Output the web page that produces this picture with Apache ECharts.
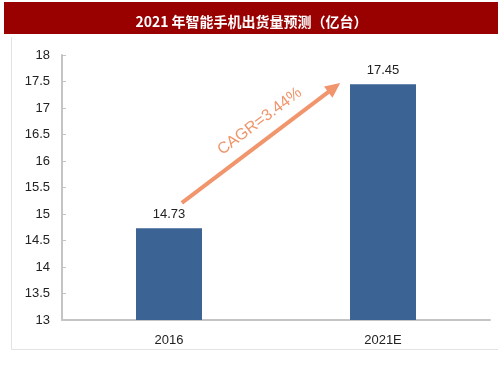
<!DOCTYPE html>
<html>
<head>
<meta charset="utf-8">
<script src="https://cdn.jsdelivr.net/npm/echarts@6/dist/echarts.min.js"></script>
<style>
  html, body { margin: 0; padding: 0; background: #fff; }
  #chart { width: 503px; height: 378px; }
</style>
</head>
<body>
<div id="chart"></div>
<script>
const titleText = "2021 年智能手机出货量预测（亿台）";
const categories = ["2016", "2021E"];
const shipments = [14.73, 17.45];
const cagrLabel = "CAGR=3.44%";
// arrow start / end: fraction of the way between the two category centres, and value
const arrowFrom = [0.06, 15.21];
const arrowTo = [0.8, 17.47];

const FONT = "'Liberation Sans', Arial, sans-serif";
const AXIS_COLOR = "#c4c4c4";
const ARROW_COLOR = "#f0956c";

const chart = echarts.init(document.getElementById("chart"));

const baseGraphic = [
  {
    type: "rect",
    z: -1,
    shape: { x: 4, y: 2, width: 494, height: 32 },
    style: { fill: "#990000" },
  },
  {
    type: "polyline",
    shape: { points: [[11.5, 37], [11.5, 349.5], [498, 349.5]] },
    style: { stroke: "#e3e3e3", lineWidth: 1, fill: null },
  },
];

chart.setOption({
  animation: false,
  title: {
    text: titleText,
    left: "center",
    top: 10,
    textStyle: {
      color: "#fff",
      fontSize: 14,
      fontWeight: "bold",
      fontFamily: "'Noto Sans CJK SC', sans-serif",
    },
  },
  graphic: baseGraphic,
  grid: { left: 62, right: 13, top: 55, bottom: 58 },
  xAxis: {
    type: "category",
    data: categories,
    axisLine: { lineStyle: { color: AXIS_COLOR, width: 2 } },
    axisTick: { inside: true, length: 4, lineStyle: { color: AXIS_COLOR } },
    axisLabel: { color: "#222", fontSize: 13, fontFamily: FONT, margin: 14 },
  },
  yAxis: {
    type: "value",
    min: 13,
    max: 18,
    interval: 0.5,
    splitLine: { show: false },
    axisLine: { show: true, lineStyle: { color: AXIS_COLOR, width: 2 } },
    axisTick: { show: true, inside: true, length: 4, lineStyle: { color: AXIS_COLOR } },
    axisLabel: { color: "#222", fontSize: 13, fontFamily: FONT, margin: 12 },
  },
  series: [
    {
      type: "bar",
      data: shipments,
      barWidth: 66,
      itemStyle: { color: "#3b6394" },
      label: {
        show: true,
        position: "top",
        distance: 7,
        color: "#222",
        fontSize: 13,
        fontFamily: FONT,
      },
    },
  ],
});

// arrow annotation, positioned through the chart's own scales
function toPixel(p) {
  const c0 = chart.convertToPixel({ gridIndex: 0 }, [categories[0], p[1]]);
  const c1 = chart.convertToPixel({ gridIndex: 0 }, [categories[1], p[1]]);
  return [c0[0] + (c1[0] - c0[0]) * p[0], c0[1]];
}
const a = toPixel(arrowFrom);
const b = toPixel(arrowTo);
const ang = Math.atan2(b[1] - a[1], b[0] - a[0]);
const headLen = 15, headHalf = 7;
const ux = Math.cos(ang), uy = Math.sin(ang);
const base = [b[0] - ux * headLen, b[1] - uy * headLen];
const mid = [(a[0] + b[0]) / 2, (a[1] + b[1]) / 2];
// label offset: perpendicular (above the line) and a little along it
const off = 18, along = 12;
const labelPos = [mid[0] + uy * off + ux * along, mid[1] - ux * off + uy * along];

chart.setOption({
  graphic: baseGraphic.concat([
    {
      type: "line",
      shape: { x1: a[0], y1: a[1], x2: base[0] + ux * 2, y2: base[1] + uy * 2 },
      style: { stroke: ARROW_COLOR, lineWidth: 4 },
    },
    {
      type: "polygon",
      shape: {
        points: [
          b,
          [base[0] - uy * headHalf, base[1] + ux * headHalf],
          [base[0] + uy * headHalf, base[1] - ux * headHalf],
        ],
      },
      style: { fill: ARROW_COLOR },
    },
    {
      type: "text",
      x: labelPos[0],
      y: labelPos[1],
      rotation: -ang,
      style: {
        text: cagrLabel,
        fill: ARROW_COLOR,
        font: "16px " + FONT,
        textAlign: "center",
        textVerticalAlign: "middle",
      },
    },
  ]),
});
</script>
</body>
</html>
